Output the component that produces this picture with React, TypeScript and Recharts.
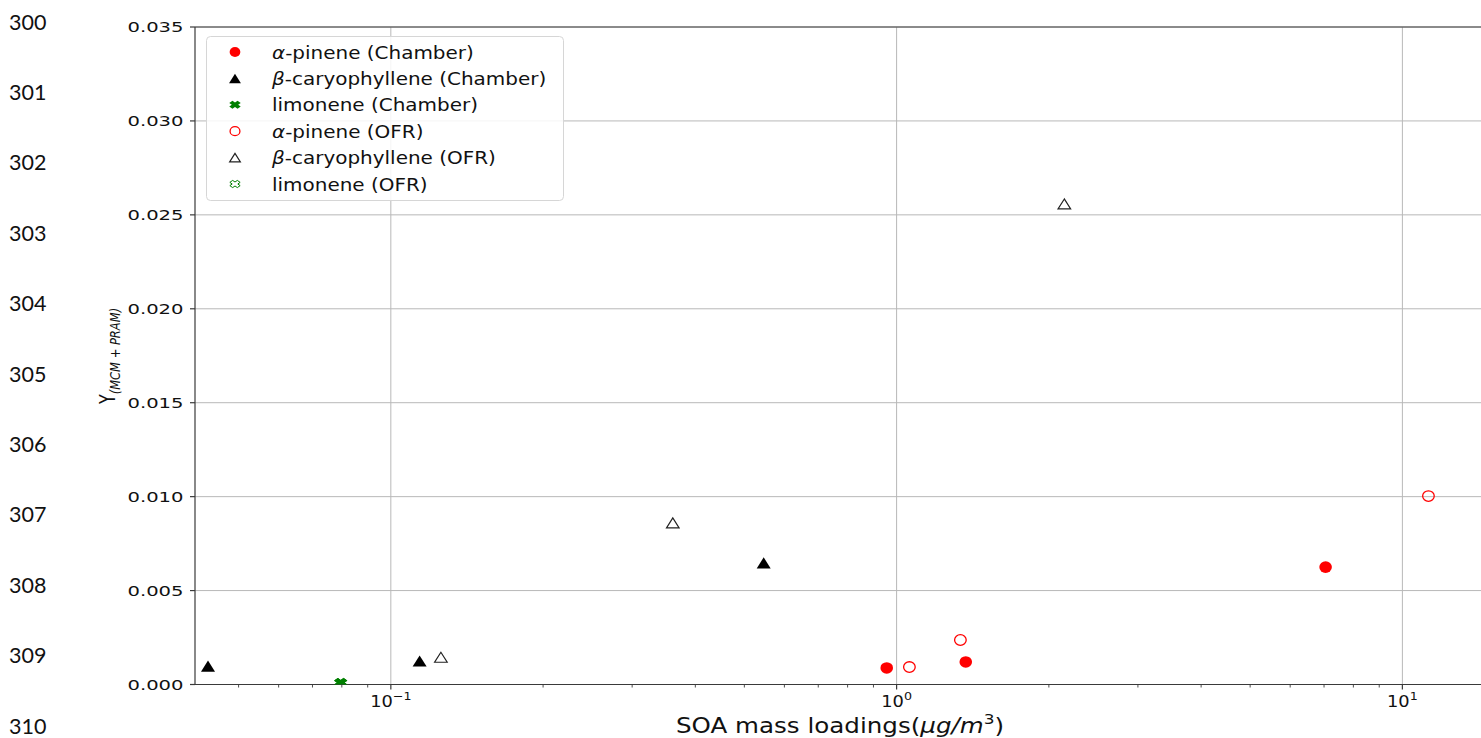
import React from 'react';
import { ScatterChart, Scatter, XAxis, YAxis, CartesianGrid, ReferenceLine } from 'recharts';

// ---- data ----
const alphaChamberX = [0.956, 1.37, 7.05];
const alphaChamberY = [0.00088, 0.0012, 0.00625];
const betaChamberX = [0.0435, 0.114, 0.546];
const betaChamberY = [0.00098, 0.00125, 0.00647];
const limChamberX = [0.0796];
const limChamberY = [0.0001];
const alphaOfrX = [1.06, 1.337, 11.26];
const alphaOfrY = [0.00093, 0.00237, 0.01003];
const betaOfrX = [0.1256, 0.361, 2.146];
const betaOfrY = [0.00145, 0.0086, 0.02558];
const limOfrX = [0.0796];
const limOfrY = [0.0001];

const X_MAJOR = [0.1, 1, 10];
const X_MINOR = [0.05, 0.06, 0.07, 0.08, 0.09, 0.2, 0.3, 0.4, 0.5, 0.6, 0.7, 0.8, 0.9, 2, 3, 4, 5, 6, 7, 8, 9];
const X_TICKS = [...X_MAJOR, ...X_MINOR].sort((a, b) => a - b);
const Y_TICKS = [0, 0.005, 0.01, 0.015, 0.02, 0.025, 0.03, 0.035];
const LINE_NUMBERS = ['300', '301', '302', '303', '304', '305', '306', '307', '308', '309', '310'];

const LEGEND_ITEMS = [
  { greek: 'α', rest: '-pinene (Chamber)', kind: 'dotFilled' },
  { greek: 'β', rest: '-caryophyllene (Chamber)', kind: 'triFilled' },
  { greek: '', rest: 'limonene (Chamber)', kind: 'xFilled' },
  { greek: 'α', rest: '-pinene (OFR)', kind: 'dotOpen' },
  { greek: 'β', rest: '-caryophyllene (OFR)', kind: 'triOpen' },
  { greek: '', rest: 'limonene (OFR)', kind: 'xOpen' },
];

const zip = (xs: number[], ys: number[]) => xs.map((x, i) => ({ x, y: ys[i] }));

const FONT = 'DejaVu Sans, Verdana, sans-serif';
const RED = '#ff0000';
const GREEN = '#008000';
const SPINE = '#3a3a3a';
const GRID = '#b8b8b8';

// ---- marker shapes ----
function xPoints(cx: number, cy: number, s: number, sx: number) {
  const a = 0.38;
  const base = [
    [a, 1], [a, a], [1, a], [1, -a], [a, -a], [a, -1],
    [-a, -1], [-a, -a], [-1, -a], [-1, a], [-a, a], [-a, 1],
  ];
  const c = Math.SQRT1_2;
  return base
    .map(([px, py]) => {
      const rx = (px * c - py * c) * s * sx;
      const ry = (px * c + py * c) * s * 0.8;
      return `${cx + rx},${cy + ry}`;
    })
    .join(' ');
}

function Marker({ kind, cx, cy, scale = 1 }: { kind: string; cx: number; cy: number; scale?: number }) {
  const s = scale;
  switch (kind) {
    case 'dotFilled':
      return <ellipse cx={cx} cy={cy} rx={6.3 * s} ry={5.8 * s} fill={RED} />;
    case 'dotOpen':
      return <ellipse cx={cx} cy={cy} rx={5.8 * s} ry={5.3 * s} fill="none" stroke={RED} strokeWidth={1.3} />;
    case 'triFilled': {
      const w = 7 * s, h = 5.6 * s;
      return <polygon points={`${cx},${cy - h} ${cx - w},${cy + h} ${cx + w},${cy + h}`} fill="#000" />;
    }
    case 'triOpen': {
      const w = 6.3 * s, h = 5.0 * s;
      return <polygon points={`${cx},${cy - h} ${cx - w},${cy + h} ${cx + w},${cy + h}`} fill="none" stroke="#222" strokeWidth={1.2} />;
    }
    case 'xFilled':
      return <polygon points={xPoints(cx, cy, 6 * s, 1.15)} fill={GREEN} />;
    case 'xOpen':
      return <polygon points={xPoints(cx, cy, 5.4 * s, 1.15)} fill="none" stroke={GREEN} strokeWidth={1} />;
    default:
      return null;
  }
}

const shapeOf = (kind: string) => (p: any) => <Marker kind={kind} cx={p.cx} cy={p.cy} />;

// ---- ticks ----
const XTick = (props: any) => {
  const { x, y, payload } = props;
  const v = payload.value;
  const major = X_MAJOR.includes(v);
  const exp = Math.round(Math.log10(v));
  return (
    <g>
      <line x1={x} x2={x} y1={y} y2={y + (major ? 5 : 3)} stroke={SPINE} strokeWidth={major ? 1.2 : 0.9} />
      {major && (
        <g transform={`translate(${x},${y + 22.5}) scale(1.15,1)`}>
          <text x={0} y={0} textAnchor="middle" fontFamily={FONT} fontSize={15.5} fill="#111">
            10
            <tspan dy={-7} fontSize={11}>{exp < 0 ? `−${-exp}` : `${exp}`}</tspan>
          </text>
        </g>
      )}
    </g>
  );
};

const YTick = (props: any) => {
  const { x, y, payload } = props;
  return (
    <g>
      <line x1={x - 5} x2={x} y1={y} y2={y} stroke={SPINE} strokeWidth={1.2} />
      <g transform={`translate(${x - 11.5},${y + 5.3}) scale(1.34,1)`}>
        <text x={0} y={0} textAnchor="end" fontFamily={FONT} fontSize={14.6} fill="#111">
          {Number(payload.value).toFixed(3)}
        </text>
      </g>
    </g>
  );
};

export default function App() {
  return (
    <div style={{ position: 'fixed', left: 0, top: 0, width: 1481, height: 738, overflow: 'hidden', background: '#fff' }}>
      <ScatterChart width={1500} height={738} margin={{ top: 27, right: 13, bottom: 0, left: 0 }}>
        <CartesianGrid vertical={false} stroke={GRID} strokeWidth={1} />
        <ReferenceLine x={0.1} stroke={GRID} strokeWidth={1} />
        <ReferenceLine x={1} stroke={GRID} strokeWidth={1} />
        <ReferenceLine x={10} stroke={GRID} strokeWidth={1} />
        <ReferenceLine y={0.035} stroke={SPINE} strokeWidth={1.2} />
        <XAxis
          dataKey="x"
          type="number"
          scale="log"
          domain={[0.041, 14.7]}
          allowDataOverflow
          ticks={X_TICKS}
          interval={0}
          tick={<XTick />}
          tickLine={false}
          tickSize={0}
          tickMargin={0}
          axisLine={{ stroke: SPINE, strokeWidth: 1.2 }}
          height={53.5}
        />
        <YAxis
          dataKey="y"
          type="number"
          domain={[0, 0.035]}
          allowDataOverflow
          ticks={Y_TICKS}
          interval={0}
          tick={<YTick />}
          tickLine={false}
          tickSize={0}
          tickMargin={0}
          axisLine={{ stroke: SPINE, strokeWidth: 1.2 }}
          width={195}
        />
        <Scatter name="α-pinene (Chamber)" data={zip(alphaChamberX, alphaChamberY)} shape={shapeOf('dotFilled')} isAnimationActive={false} />
        <Scatter name="β-caryophyllene (Chamber)" data={zip(betaChamberX, betaChamberY)} shape={shapeOf('triFilled')} isAnimationActive={false} />
        <Scatter name="limonene (Chamber)" data={zip(limChamberX, limChamberY)} shape={shapeOf('xFilled')} isAnimationActive={false} />
        <Scatter name="α-pinene (OFR)" data={zip(alphaOfrX, alphaOfrY)} shape={shapeOf('dotOpen')} isAnimationActive={false} />
        <Scatter name="β-caryophyllene (OFR)" data={zip(betaOfrX, betaOfrY)} shape={shapeOf('triOpen')} isAnimationActive={false} />
        <Scatter name="limonene (OFR)" data={zip(limOfrX, limOfrY)} shape={shapeOf('xOpen')} isAnimationActive={false} />
      </ScatterChart>

      <svg width={1481} height={738} style={{ position: 'absolute', left: 0, top: 0, pointerEvents: 'none' }}>
        {/* manuscript line numbers */}
        {LINE_NUMBERS.map((n, i) => (
          <text key={n} x={9} y={22 + i * 70.4 + 7.5} fontFamily="Lato, sans-serif" fontSize={21.5} fill="#111">
            {n}
          </text>
        ))}

        {/* y-axis title */}
        <g transform="translate(115,356) scale(1.3,1) rotate(-90)">
          <text x={0} y={0} textAnchor="middle" fontFamily={FONT} fontSize={16} fill="#111">
            Y
            <tspan dy={4} fontSize={11.5} fontStyle="italic">(MCM + PRAM)</tspan>
          </text>
        </g>

        {/* x-axis title */}
        <g transform="translate(840,732.5) scale(1.17,1)">
          <text x={0} y={0} textAnchor="middle" fontFamily={FONT} fontSize={21} fill="#111">
            SOA mass loadings(
            <tspan fontStyle="italic">μg/m</tspan>
            <tspan dy={-9} fontSize={14.5}>3</tspan>
            <tspan dy={9}>)</tspan>
          </text>
        </g>

        {/* legend */}
        <rect x={206.5} y={36.5} width={357} height={164} rx={4} ry={4} fill="rgba(255,255,255,0.85)" stroke="#d6d6d6" strokeWidth={1} />
        {LEGEND_ITEMS.map((it, i) => {
          const cy = 52 + i * 26.4;
          return (
            <g key={i}>
              <Marker kind={it.kind} cx={235} cy={cy} scale={0.85} />
              <g transform={`translate(272,${cy + 6.5}) scale(1.11,1)`}>
                <text x={0} y={0} fontFamily={FONT} fontSize={18} fill="#111">
                  {it.greek && <tspan fontStyle="italic">{it.greek}</tspan>}
                  {it.rest}
                </text>
              </g>
            </g>
          );
        })}
      </svg>
    </div>
  );
}
